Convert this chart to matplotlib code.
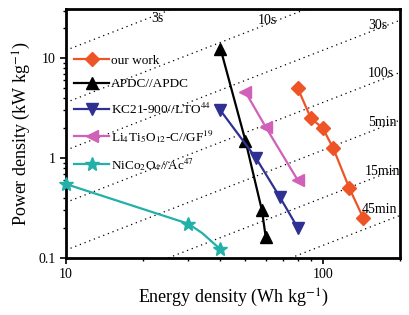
import numpy as np
import matplotlib
matplotlib.use("Agg")
import matplotlib.pyplot as plt
from matplotlib.ticker import FixedLocator, NullFormatter, LogLocator

plt.rcParams['font.family'] = ['Liberation Serif', 'DejaVu Serif']
plt.rcParams['mathtext.fontset'] = 'stix'

# Ragone data (Wh/kg, kW/kg)
ours_E = [80, 90, 100, 110, 127, 144]
ours_P = [5.0, 2.5, 2.0, 1.25, 0.5, 0.25]

apdc_E = [40, 50, 58, 60]
apdc_P = [12.5, 1.5, 0.3, 0.163]

kc_E = [40, 55, 68, 80]
kc_P = [3.0, 1.0, 0.41, 0.2]

lto_E = [50, 60, 80]
lto_P = [4.6, 2.05, 0.6]

nico_E = [10, 30, 40]
nico_P = [0.55, 0.22, 0.122]
nico_line_E = [10, 30, 34, 40]
nico_line_P = [0.55, 0.22, 0.177, 0.122]

# constant discharge-time guide lines
t_sec = [3, 10, 30, 100, 300, 900, 2700]
t_lab = ['3s', '10s', '30s', '100s', '5min', '15min', '45min']
lab_E = [22.7, 61, 164, 169, 171, 171, 166]
lab_P = [25, 23.6, 21.4, 7.1, 2.25, 0.73, 0.307]

fig = plt.figure(figsize=(4.09, 3.15), dpi=100)
ax = fig.add_axes([0.161, 0.181, 0.817, 0.79])

Eg = np.array([10, 200])
for t in t_sec:
    ax.plot(Eg, 3.6 * Eg / t, color='black', lw=0.9, ls=(0, (1, 3)), zorder=1)
for e, p, s in zip(lab_E, lab_P, t_lab):
    ax.text(e, p, s, fontsize=10, ha='center', va='center', zorder=2)

ax.plot(ours_E, ours_P, '-D', color='#ee5526', ms=7, lw=1.6, label='our work', zorder=5)
ax.plot(apdc_E, apdc_P, '-^', color='black', ms=8, lw=1.6, label='APDC//APDC', zorder=4)
ax.plot(kc_E, kc_P, '-v', color='#2e3192', ms=8, lw=1.6, label='KC21-900//LTO$^{44}$', zorder=4)
ax.plot(lto_E, lto_P, '-<', color='#d160b8', ms=8, lw=1.6,
        label='Li$_4$Ti$_5$O$_{12}$-C//GF$^{19}$', zorder=4)
ax.plot(nico_line_E, nico_line_P, '-', color='#22b0a8', lw=1.6, zorder=4, clip_on=False)
ax.plot(nico_E, nico_P, '*', color='#22b0a8', ms=10, zorder=4, clip_on=False)
ax.plot([], [], '-*', color='#22b0a8', ms=10, lw=1.6, label='NiCo$_2$O$_4$//Ac$^{47}$')

ax.set_xscale('log')
ax.set_yscale('log')
ax.set_xlim(10, 200)
ax.set_ylim(0.1, 31)

ax.xaxis.set_major_locator(FixedLocator([10, 100]))
ax.yaxis.set_major_locator(FixedLocator([0.1, 1, 10]))
ax.set_xticklabels(['10', '100'])
ax.set_yticklabels(['0.1', '1', '10'])
ax.xaxis.set_minor_locator(LogLocator(base=10, subs=np.arange(2, 10)))
ax.yaxis.set_minor_locator(LogLocator(base=10, subs=np.arange(2, 10)))
ax.xaxis.set_minor_formatter(NullFormatter())
ax.yaxis.set_minor_formatter(NullFormatter())
ax.tick_params(which='major', length=4, width=1.2, labelsize=10, direction='out')
ax.tick_params(which='minor', length=2, width=1.0, direction='out')
ax.tick_params(axis='x', which='both', top=False)
for s in ax.spines.values():
    s.set_linewidth(2)

ax.set_xlabel('Energy density (Wh kg$^{-1}$)', fontsize=13)
ax.set_ylabel('Power density (kW kg$^{-1}$)', fontsize=13)

ax.legend(loc='upper left', frameon=False, fontsize=9.5, handlelength=2.6,
          labelspacing=0.85, bbox_to_anchor=(-0.01, 0.865), handletextpad=0.2)

fig.savefig('out.png', dpi=100)
